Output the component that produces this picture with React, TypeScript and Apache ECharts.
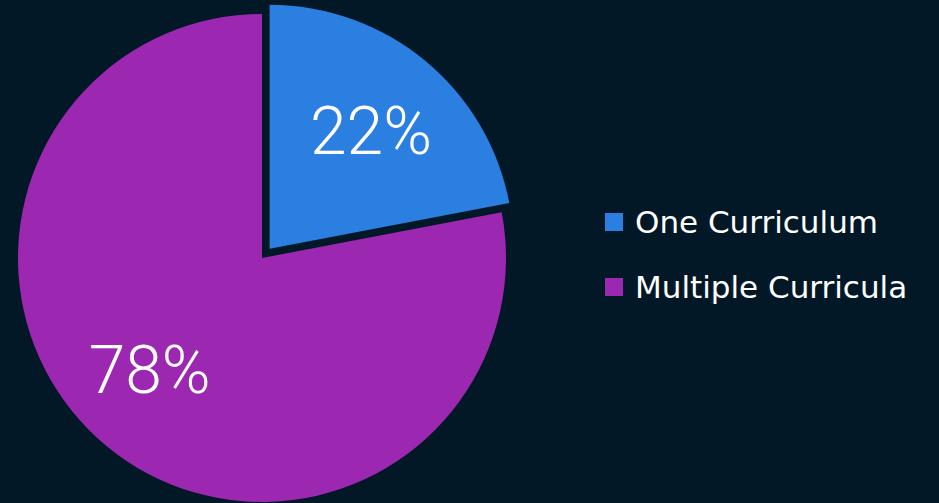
import React, { useEffect, useRef } from "react";
import * as echarts from "echarts";

const categories = ["One Curriculum", "Multiple Curricula"];
const values = [22, 78];
const colors = ["#2b7fe0", "#9c27b0"];
const labels = ["22%", "78%"];

export default function App() {
  const ref = useRef<HTMLDivElement>(null);
  useEffect(() => {
    document.body.style.margin = "0";
    document.body.style.background = "#021827";
    const chart = echarts.init(ref.current!, null, { renderer: "svg" });
    const R = 244;
    const labelShift = [
      [0, 5],
      [-11, -10],
    ];
    const data = categories.map((name, i) => ({
      name,
      value: values[i],
      selected: i === 0,
      itemStyle: { color: colors[i] },
    }));
    chart.setOption({
      animation: false,
      backgroundColor: "#021827",
      legend: {
        orient: "vertical",
        left: 600,
        top: 200,
        itemWidth: 18,
        itemHeight: 18,
        itemGap: 31,
        icon: "rect",
        data: categories,
        textStyle: {
          color: "#ffffff",
          fontFamily: "DejaVu Sans",
          fontSize: 31,
          lineHeight: 34,
          padding: [0, 0, 0, 7],
        },
      },
      series: [
        {
          type: "pie",
          center: [262, 258],
          radius: [0, R],
          startAngle: 90,
          clockwise: true,
          selectedMode: "single",
          selectedOffset: 12,
          silent: true,
          label: { show: false },
          labelLine: { show: false },
          data,
        },
        {
          type: "pie",
          center: [262, 258],
          radius: [Math.round(R * 0.28), R],
          startAngle: 90,
          clockwise: true,
          selectedMode: "single",
          selectedOffset: 12,
          silent: true,
          itemStyle: { color: "rgba(0,0,0,0)" },
          label: {
            show: true,
            position: "inside",
            formatter: (p: any) => labels[p.dataIndex],
            color: "#ffffff",
            fontFamily: "Roboto",
            fontWeight: 300,
            fontSize: 66,
          },
          labelLayout: (p: any) => ({
            dx: labelShift[p.dataIndex][0],
            dy: labelShift[p.dataIndex][1],
          }),
          labelLine: { show: false },
          data: categories.map((name, i) => ({
            name: name + " ",
            value: values[i],
            selected: i === 0,
          })),
        },
      ],
    });
    return () => chart.dispose();
  }, []);
  return <div ref={ref} style={{ width: 939, height: 503 }} />;
}
